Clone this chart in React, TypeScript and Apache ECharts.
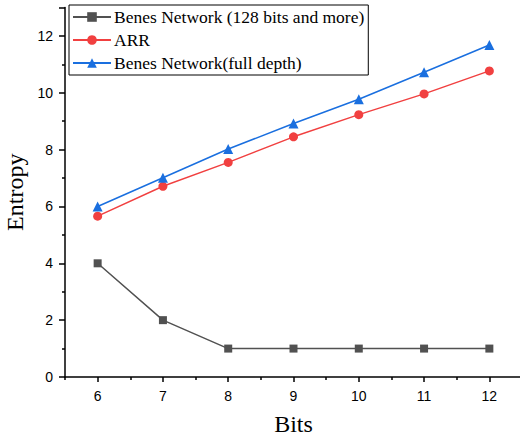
import React, { useEffect, useRef } from "react";
import * as echarts from "echarts";

const bits = ["6", "7", "8", "9", "10", "11", "12"];
const benes128 = [4, 2, 1, 1, 1, 1, 1];
const arr = [5.66, 6.71, 7.55, 8.45, 9.23, 9.96, 10.77];
const benesFull = [6.0, 7.01, 8.02, 8.92, 9.77, 10.72, 11.68];
const seriesNames = ["Benes Network (128 bits and more)", "ARR", "Benes Network(full depth)"];

export default function App() {
  const ref = useRef<HTMLDivElement>(null);
  useEffect(() => {
    const chart = echarts.init(ref.current!, null, { renderer: "svg" });
    const serif = "Liberation Serif, Times New Roman, serif";
    const sans = "Liberation Sans, Arial, sans-serif";
    const axisColor = { color: "#000", width: 1.5 };
    chart.setOption({
      animation: false,
      backgroundColor: "#fff",
      grid: { left: 65, right: -2, top: 7.5, bottom: 61, containLabel: false, outerBoundsMode: "none" },
      legend: {
        orient: "vertical",
        left: 69,
        top: 5,
        padding: [3, 4, 3, 3],
        itemGap: 5,
        itemWidth: 38,
        itemHeight: 12,
        borderColor: "#000",
        borderWidth: 1,
        textStyle: { fontFamily: serif, fontSize: 17.5, color: "#000", padding: [0, 0, 0, -2] },
        data: seriesNames,
      },
      xAxis: [
        {
          type: "category",
          data: bits,
          boundaryGap: true,
          name: "Bits",
          nameLocation: "middle",
          nameGap: 35,
          nameTextStyle: { fontFamily: serif, fontSize: 24, color: "#000" },
          axisLine: { lineStyle: axisColor },
          axisTick: { show: true, alignWithLabel: true, length: 5, lineStyle: axisColor },
          splitLine: { show: false },
          axisLabel: { fontFamily: sans, fontSize: 14, color: "#000", margin: 12 },
        },
        {
          type: "category",
          data: bits,
          boundaryGap: true,
          position: "bottom",
          axisLine: { show: false },
          axisTick: { show: true, alignWithLabel: false, length: 3, lineStyle: axisColor },
          axisLabel: { show: false },
          splitLine: { show: false },
        },
      ],
      yAxis: {
        type: "value",
        min: 0,
        max: 13,
        interval: 2,
        name: "Entropy",
        nameLocation: "middle",
        nameGap: 32,
        nameTextStyle: { fontFamily: serif, fontSize: 24, color: "#000" },
        axisLine: { show: true, lineStyle: axisColor },
        axisTick: { show: true, length: 6, lineStyle: axisColor },
        minorTick: { show: true, splitNumber: 2, length: 3, lineStyle: axisColor },
        splitLine: { show: false },
        axisLabel: { fontFamily: sans, fontSize: 14, color: "#000", margin: 12, showMaxLabel: false },
      },
      series: [
        {
          name: seriesNames[0],
          type: "line",
          data: benes128,
          color: "#515151",
          symbol: "rect",
          symbolSize: 8,
          lineStyle: { width: 1.5 },
        },
        {
          name: seriesNames[1],
          type: "line",
          data: arr,
          color: "#F14040",
          symbol: "circle",
          symbolSize: 9,
          lineStyle: { width: 1.5 },
        },
        {
          name: seriesNames[2],
          type: "line",
          data: benesFull,
          color: "#1A6FDF",
          symbol: "triangle",
          symbolSize: 10,
          lineStyle: { width: 1.5 },
        },
      ],
    });
    return () => chart.dispose();
  }, []);
  return <div ref={ref} style={{ width: 520, height: 438, position: "absolute", left: 0, top: 0 }} />;
}
